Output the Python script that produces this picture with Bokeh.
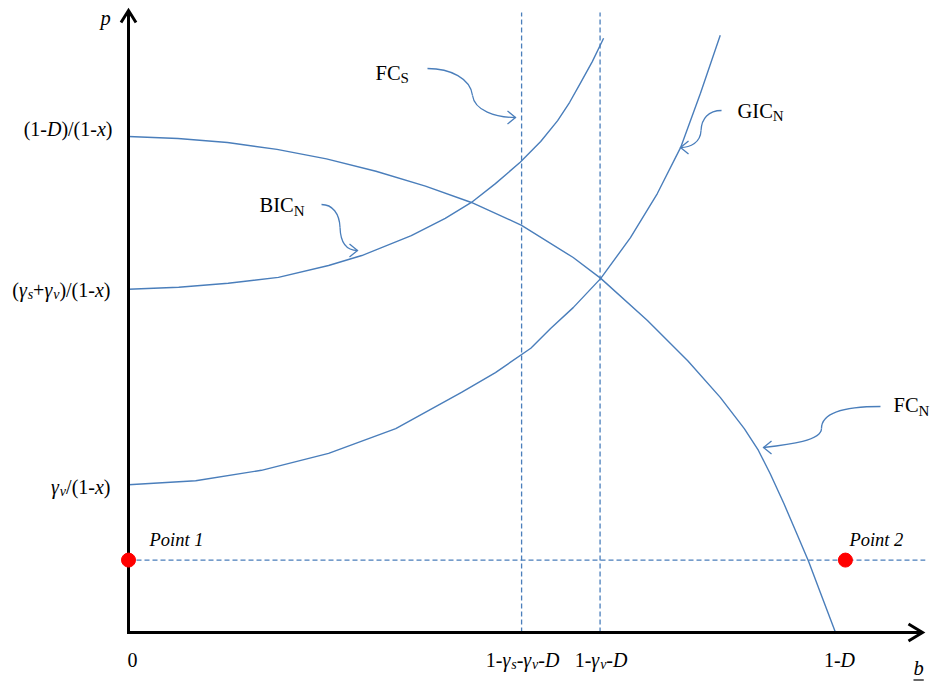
from bokeh.plotting import figure
from bokeh.models import ColumnDataSource, Range1d, LabelSet
from bokeh.embed import file_html
from bokeh.resources import INLINE

# ---------------- values ----------------
# units: b axis with 1-D = 1 ; p axis with (1-D)/(1-x) = 1
b_ticks = [0.0, 0.556, 0.667, 1.0]        # 0, 1-γs-γv-D, 1-γv-D, 1-D
p_ticks = [1.0, 0.692, 0.298]             # (1-D)/(1-x), (γs+γv)/(1-x), γv/(1-x)
p_points = 0.146
points_b = [0.0, 1.014]
points_names = ["Point 1", "Point 2"]
vline_top = 1.25
hline_end = 1.127

fcn_b = [0.0, 0.07, 0.14, 0.21, 0.28, 0.35, 0.42, 0.485, 0.556, 0.629, 0.668,
         0.734, 0.791, 0.837, 0.871, 0.891, 0.908, 0.927, 0.945, 0.962, 0.980, 1.0]
fcn_p = [1.0, 0.996, 0.988, 0.974, 0.955, 0.930, 0.900, 0.867, 0.821, 0.756, 0.714,
         0.629, 0.548, 0.474, 0.411, 0.367, 0.319, 0.260, 0.200, 0.143, 0.075, 0.0]
bic_b = [0.0, 0.071, 0.141, 0.212, 0.283, 0.330, 0.400, 0.448, 0.485, 0.519,
         0.554, 0.583, 0.607, 0.624, 0.639, 0.656, 0.672]
bic_p = [0.692, 0.696, 0.704, 0.716, 0.740, 0.760, 0.800, 0.835, 0.867, 0.905,
         0.948, 0.990, 1.032, 1.069, 1.107, 1.151, 1.198]
gic_b = [0.0, 0.095, 0.188, 0.283, 0.378, 0.471, 0.519, 0.569, 0.597, 0.629, 0.668,
         0.710, 0.748, 0.781, 0.809, 0.837]
gic_p = [0.298, 0.306, 0.327, 0.361, 0.411, 0.484, 0.524, 0.573, 0.613, 0.655, 0.714,
         0.796, 0.885, 0.978, 1.087, 1.204]

# curly label connectors (cubic bezier pieces): FC_S, BIC_N, GIC_N, FC_N
con_x0 = [0.4229, 0.4866, 0.2730, 0.2992, 0.8388, 0.8098, 1.0636, 0.9802]
con_y0 = [1.1371, 1.0827, 0.8629, 0.8165, 1.0524, 1.0121, 0.4556, 0.4113]
con_x1 = [0.4866, 0.5474, 0.2992, 0.3239, 0.8098, 0.7808, 0.9802, 0.8982]
con_y1 = [1.0827, 1.0383, 0.8165, 0.7702, 1.0121, 0.9778, 0.4113, 0.3730]
con_cx0 = [0.4554, 0.4894, 0.2885, 0.2999, 0.8204, 0.8091, 1.0071, 0.9802]
con_cy0 = [1.1371, 1.0524, 0.8629, 0.7843, 1.0524, 0.9879, 0.4556, 0.3871]
con_cx1 = [0.4837, 0.5191, 0.2984, 0.3098, 0.8105, 0.7949, 0.9802, 0.9364]
con_cy1 = [1.1169, 1.0383, 0.8448, 0.7702, 1.0363, 0.9778, 0.4415, 0.3790]
tip_b = [0.5474, 0.3239, 0.7808, 0.8982]
tip_p = [1.0383, 0.7702, 0.9778, 0.3730]
tip_dir = [1, 1, -1, -1]

# ---------------- layout ----------------
W, H = 936, 684
PXB = 1.0 / 707.0     # data units per pixel (horizontal)
PXP = 1.0 / 496.0     # data units per pixel (vertical)
BLUE = "#4A7EBB"
FONT = "Liberation Serif"

p = figure(width=W, height=H, output_backend="svg", toolbar_location=None,
           x_axis_type=None, y_axis_type=None, min_border=0,
           x_range=Range1d(-128 * PXB, 808 * PXB),
           y_range=Range1d(-52 * PXP, 632 * PXP))
p.outline_line_color = None
p.background_fill_color = "white"
p.border_fill_color = "white"

# dashed guide lines
p.segment(x0=[b_ticks[1], b_ticks[2]], y0=[0, 0], x1=[b_ticks[1], b_ticks[2]],
          y1=[vline_top, vline_top], line_color=BLUE, line_width=1.3, line_dash="5 3")
p.segment(x0=[points_b[0]], y0=[p_points], x1=[hline_end], y1=[p_points],
          line_color=BLUE, line_width=1.3, line_dash="5 3")

# curves
for xs, ys in [(fcn_b, fcn_p), (bic_b, bic_p), (gic_b, gic_p)]:
    p.line(xs, ys, line_color=BLUE, line_width=1.4, line_join="round")

# connectors
p.bezier(x0=con_x0, y0=con_y0, x1=con_x1, y1=con_y1, cx0=con_cx0, cy0=con_cy0,
         cx1=con_cx1, cy1=con_cy1, line_color=BLUE, line_width=1.3)
hx, hy = [], []
for tb, tp, d in zip(tip_b, tip_p, tip_dir):
    hx.append([tb - d * 8 * PXB, tb, tb - d * 8 * PXB])
    hy.append([tp + 6.5 * PXP, tp, tp - 6.5 * PXP])
p.multi_line(hx, hy, line_color=BLUE, line_width=1.3, line_join="miter")

# axes with open arrow heads
x_tip = 794 * PXB
y_tip = 622 * PXP
p.line([-1.5 * PXB, x_tip], [0, 0], line_color="black", line_width=3)
p.line([0, 0], [0, y_tip], line_color="black", line_width=3)
p.line([x_tip - 14 * PXB, x_tip, x_tip - 14 * PXB], [8.5 * PXP, 0, -8.5 * PXP],
       line_color="black", line_width=3, line_join="miter")
p.line([-7.5 * PXB, 0, 7.5 * PXB], [y_tip - 12 * PXP, y_tip, y_tip - 12 * PXP],
       line_color="black", line_width=3, line_join="miter")

# points
p.scatter(points_b, [p_points, p_points], size=14, color="#FF0000")

# ---------------- rich text (subscripts) ----------------
REG = {'0': 500, '1': 500, '2': 500, '(': 333, ')': 333, '-': 333, '/': 278, '+': 564,
       'F': 556, 'C': 667, 'G': 722, 'I': 333, 'B': 667, 'N': 722, 'S': 556, ' ': 250}
ITA = {'D': 722, 'x': 444, 'p': 500, 'b': 500, 's': 389, 'v': 444, 'γ': 440,
       'P': 611, 'o': 500, 'i': 278, 'n': 500, 't': 278, ' ': 250, '1': 500, '2': 500}

rows = {}


def width(txt, ital, size):
    t = ITA if ital else REG
    return sum(t.get(c, 500) for c in txt) / 1000.0 * size


def rich(segs, x, y, size, sub_size, sub_drop, align="left"):
    total = sum(width(t, it, sub_size if sb else size) for t, it, sb in segs)
    off = {"left": 0.0, "center": -total / 2.0, "right": -total}[align]
    for t, it, sb in segs:
        sz = sub_size if sb else size
        key = ("italic" if it else "normal", sz)
        r = rows.setdefault(key, dict(x=[], y=[], text=[], xo=[], yo=[]))
        r["x"].append(x)
        r["y"].append(y)
        r["text"].append(t)
        r["xo"].append(off)
        r["yo"].append(-sub_drop if sb else 0.0)
        off += width(t, it, sz)
    return total


N, I = False, True
# p-axis tick labels
rich([("(1-", N, N), ("D", I, N), (")/(1-", N, N), ("x", I, N), (")", N, N)],
     -16 * PXB, p_ticks[0] + 1 * PXP, 20, 14, 2, "right")
rich([("(", N, N), ("γ", I, N), ("s", I, I), ("+", N, N), ("γ", I, N), ("v", I, I),
      (")/(1-", N, N), ("x", I, N), (")", N, N)],
     -18 * PXB, p_ticks[1] - 8 * PXP, 20, 14, 2, "right")
rich([("γ", I, N), ("v", I, I), ("/(1-", N, N), ("x", I, N), (")", N, N)],
     -18 * PXB, p_ticks[2] - 9 * PXP, 20, 14, 2, "right")
# b-axis tick labels
xl_y = -34 * PXP
rich([("0", N, N)], b_ticks[0] + 4 * PXB, xl_y, 20, 14, 2, "center")
rich([("1-", N, N), ("γ", I, N), ("s", I, I), ("-", N, N), ("γ", I, N), ("v", I, I),
      ("-", N, N), ("D", I, N)], b_ticks[1] + 1 * PXB, xl_y, 20, 14, 2, "center")
rich([("1-", N, N), ("γ", I, N), ("v", I, I), ("-", N, N), ("D", I, N)],
     b_ticks[2] + 1 * PXB, xl_y, 20, 14, 2, "center")
rich([("1-", N, N), ("D", I, N)], b_ticks[3] + 4 * PXB, xl_y, 20, 14, 2, "center")
# axis names
bw = rich([("b", I, N)], 785 * PXB, -42 * PXP, 20.5, 14, 2, "left")
rich([("p", I, N)], -28 * PXB, 607.5 * PXP, 20.5, 14, 2, "left")
# curve labels
rich([("FC", N, N), ("S", N, I)], 247 * PXB, 552.7 * PXP, 20.5, 15, 3.5)
rich([("GIC", N, N), ("N", N, I)], 609 * PXB, 514.7 * PXP, 20.5, 15, 3.5)
rich([("BIC", N, N), ("N", N, I)], 131 * PXB, 420.3 * PXP, 20.5, 15, 3.5)
rich([("FC", N, N), ("N", N, I)], 765 * PXB, 220.3 * PXP, 20.5, 15, 3.5)
# point labels
rich([(points_names[0], I, N)], points_b[0] + 21 * PXB, p_points + 14.5 * PXP, 18.5, 14, 2)
rich([(points_names[1], I, N)], points_b[1] + 4 * PXB, p_points + 14.5 * PXP, 18.5, 14, 2)

for (style, sz), r in rows.items():
    p.add_layout(LabelSet(x="x", y="y", text="text", x_offset="xo", y_offset="yo",
                          source=ColumnDataSource(r), text_font=FONT,
                          text_font_size=f"{sz}px", text_font_style=style,
                          text_align="left", text_baseline="alphabetic",
                          text_color="black"))

# underline of b
p.line([785 * PXB, 785 * PXB + bw * PXB], [-47.5 * PXP, -47.5 * PXP],
       line_color="black", line_width=1.2)

open("out.html", "w").write(file_html(p, INLINE))
